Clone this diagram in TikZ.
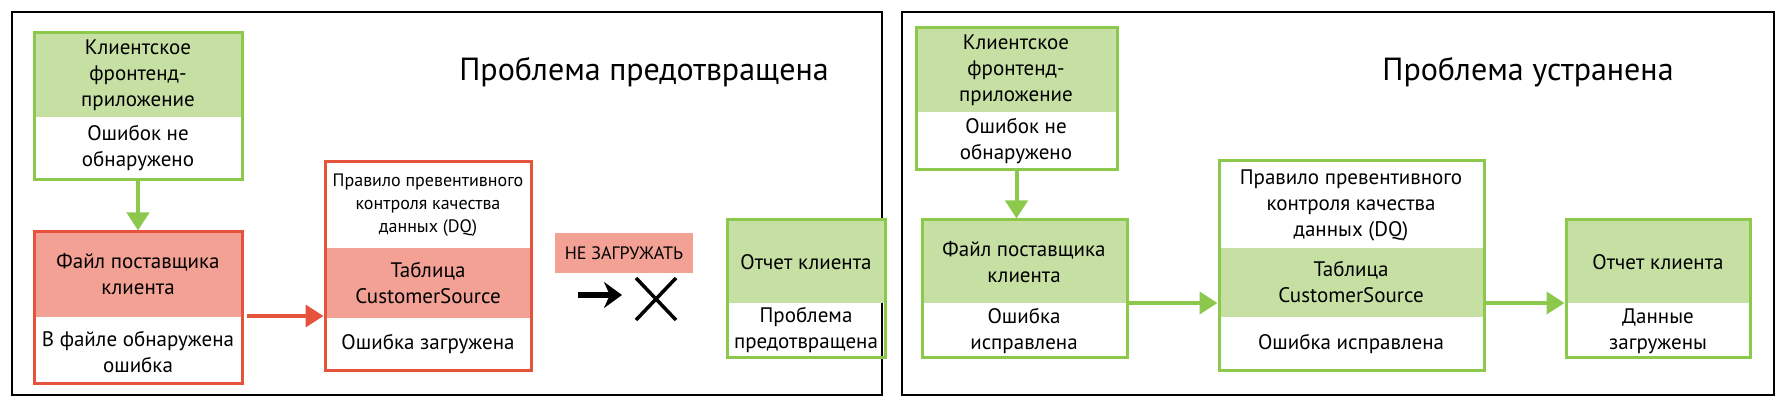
\documentclass[tikz,border=0pt]{standalone}
\usepackage{fontspec}
\setmainfont{PT Sans}
\usetikzlibrary{arrows.meta}
\definecolor{gb}{HTML}{8CC84B}
\definecolor{gf}{HTML}{C6E0A4}
\definecolor{rb}{HTML}{E5533D}
\definecolor{rf}{HTML}{F2A194}
\begin{document}
\begin{tikzpicture}[x=1pt,y=-1pt,
  txt/.style={align=center,font=\fontsize{21}{26}\selectfont,inner sep=0pt},
  stxt/.style={align=center,font=\fontsize{18}{23}\selectfont,inner sep=0pt},
  ttl/.style={font=\fontsize{32}{36}\selectfont,inner sep=0pt},
  gbox/.style={draw=gb,line width=3pt},
  rbox/.style={draw=rb,line width=3pt},
  garr/.style={draw=gb,line width=4pt,-{Triangle[width=22pt,length=18pt]}},
  rarr/.style={draw=rb,line width=4pt,-{Triangle[width=22pt,length=18pt]}}]
\useasboundingbox[fill=white] (0,0) rectangle (1786,414);
\draw[line width=2.5pt] (12,12) rectangle (882,395);
\draw[line width=2.5pt] (902,12) rectangle (1774,395);
% ---- left panel
\node[ttl] (t1) at (644,72) {Проблема предотвращена};
\fill[gf] (34,33) rectangle (242,117);
\node[gbox,minimum width=208pt,minimum height=147pt,inner sep=0pt] (a1) at (138,106.5) {};
\node[txt] (a1t) at (138,75) {Клиентское\\фронтенд-\\приложение};
\node[txt] (a1b) at (138,148) {Ошибок не\\обнаружено};
\fill[rf] (34,232) rectangle (242,317);
\node[rbox,minimum width=208pt,minimum height=151pt,inner sep=0pt] (b1) at (138,307.5) {};
\node[txt] (b1t) at (138,274) {Файл поставщика\\клиента};
\node[txt] (b1b) at (138,352) {В файле обнаружена\\ошибка};
\fill[rf] (325,248) rectangle (531,318);
\node[rbox,minimum width=206pt,minimum height=208pt,inner sep=0pt] (c1) at (428,266) {};
\node[stxt] (c1t) at (428,205) {Правило превентивного\\контроля качества\\данных (DQ)};
\node[txt] (c1m) at (428,283) {Таблица\\CustomerSource};
\node[txt] (c1b) at (428,344) {Ошибка загружена};
\fill[gf] (727,220) rectangle (885,303);
\node[gbox,minimum width=158pt,minimum height=137pt,inner sep=0pt] (d1) at (806,288.5) {};
\node[txt] (d1t) at (806,262) {Отчет клиента};
\node[txt] (d1b) at (806,330) {Проблема\\предотвращена};
\node[fill=rf,minimum width=138pt,minimum height=40pt,font=\fontsize{18}{20}\selectfont,inner sep=0pt] (nl) at (624,253) {НЕ ЗАГРУЖАТЬ};
\coordinate (k1) at (578,295);
\coordinate (k2) at (622,295);
\draw[line width=6pt,-{Stealth[length=18pt,width=26pt]}] (k1) -- (k2);
\coordinate (x1) at (636,278); \coordinate (x2) at (676,320);
\coordinate (x3) at (676,278); \coordinate (x4) at (636,320);
\draw[line width=3.5pt] (x1) -- (x2) (x3) -- (x4);
\draw[garr] (a1) -- (b1);
\draw[rarr] (247,316) -- (c1.west |- 0,316);
% ---- right panel
\node[ttl] (t2) at (1528,72) {Проблема устранена};
\fill[gf] (916,28) rectangle (1117,112);
\node[gbox,minimum width=201pt,minimum height=142pt,inner sep=0pt] (a2) at (1016.5,99) {};
\node[txt] (a2t) at (1016,70) {Клиентское\\фронтенд-\\приложение};
\node[txt] (a2b) at (1016,141) {Ошибок не\\обнаружено};
\fill[gf] (922,220) rectangle (1127,303);
\node[gbox,minimum width=205pt,minimum height=137pt,inner sep=0pt] (b2) at (1024.5,288.5) {};
\node[txt] (b2t) at (1024,262) {Файл поставщика\\клиента};
\node[txt] (b2b) at (1024,331) {Ошибка\\исправлена};
\fill[gf] (1219,248) rectangle (1484,317);
\node[gbox,minimum width=265pt,minimum height=209pt,inner sep=0pt] (c2) at (1351.5,265.5) {};
\node[txt] (c2t) at (1351,205) {Правило превентивного\\контроля качества\\данных (DQ)};
\node[txt] (c2m) at (1351,282) {Таблица\\CustomerSource};
\node[txt] (c2b) at (1351,344) {Ошибка исправлена};
\fill[gf] (1566,220) rectangle (1750,303);
\node[gbox,minimum width=184pt,minimum height=137pt,inner sep=0pt] (d2) at (1658,288.5) {};
\node[txt] (d2t) at (1658,262) {Отчет клиента};
\node[txt] (d2b) at (1658,331) {Данные\\загружены};
\draw[garr] (a2) -- (a2 |- b2.north);
\draw[garr] (b2.east |- 0,303) -- (c2.west |- 0,303);
\draw[garr] (c2.east |- 0,303) -- (d2.west |- 0,303);
\end{tikzpicture}
\end{document}
